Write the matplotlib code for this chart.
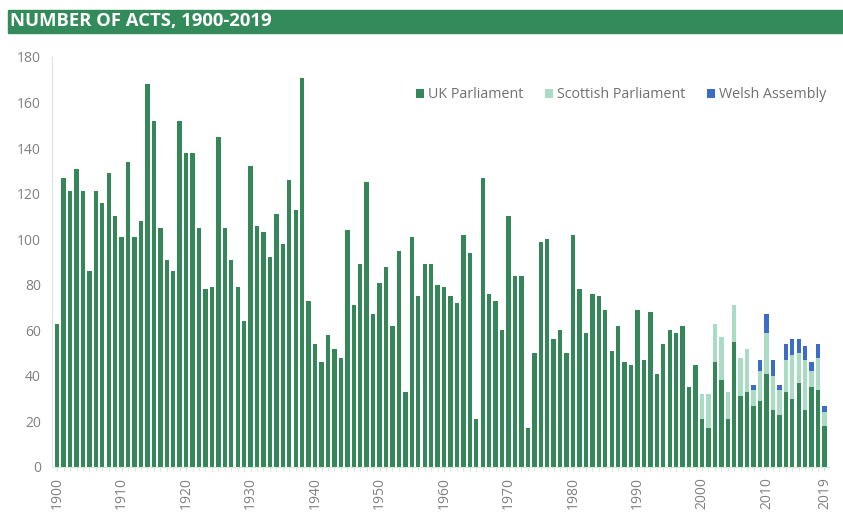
import matplotlib
matplotlib.use('Agg')
import matplotlib.pyplot as plt
from matplotlib.patches import Rectangle
import numpy as np

plt.rcParams['font.family'] = ['Open Sans', 'DejaVu Sans']

## data
years = list(range(1900, 2020))
uk = [63, 127, 121, 131, 121, 86, 121, 116, 129, 110,
      101, 134, 101, 108, 168, 152, 105, 91, 86, 152,
      138, 138, 105, 78, 79, 145, 105, 91, 79, 64,
      132, 106, 103, 92, 111, 98, 126, 113, 171, 73,
      54, 46, 58, 52, 48, 104, 71, 89, 125, 67,
      81, 88, 62, 95, 33, 101, 75, 89, 89, 80,
      79, 75, 72, 102, 94, 21, 127, 76, 73, 60,
      110, 84, 84, 17, 50, 99, 100, 56, 60, 50,
      102, 78, 59, 76, 75, 69, 51, 62, 46, 45,
      69, 47, 68, 41, 54, 60, 59, 62, 35, 45,
      21, 17, 46, 38, 21, 55, 31, 33, 27, 29,
      41, 25, 23, 33, 30, 37, 25, 35, 34, 18]
scot_years = list(range(2000, 2020))
scottish = [11, 15, 17, 19, 12, 16, 17, 19, 7, 13,
            18, 15, 11, 14, 19, 13, 22, 7, 14, 6]
welsh_years = list(range(2008, 2020))
welsh = [2, 5, 8, 7, 2, 7, 7, 6, 6, 4, 6, 3]
tick_years = [1900, 1910, 1920, 1930, 1940, 1950, 1960, 1970, 1980, 1990, 2000, 2010, 2019]

c_uk = '#35875a'
c_scot = '#a9dcc2'
c_wales = '#3b6cc6'
grey = '#808080'

# line the devolved series up with the full year range
scot_full = np.zeros(len(years))
wales_full = np.zeros(len(years))
for y, v in zip(scot_years, scottish):
    scot_full[years.index(y)] = v
for y, v in zip(welsh_years, welsh):
    wales_full[years.index(y)] = v

fig = plt.figure(figsize=(8.43, 5.15), dpi=100)
ax = fig.add_axes([52 / 843, 48 / 515, 777 / 843, 410 / 515])

x = np.arange(len(years))
w = 0.68
ax.bar(x, uk, w, color=c_uk, label='UK Parliament')
ax.bar(x, scot_full, w, bottom=uk, color=c_scot, label='Scottish Parliament')
ax.bar(x, wales_full, w, bottom=np.array(uk) + scot_full, color=c_wales, label='Welsh Assembly')

ax.set_ylim(0, 180)
ax.set_yticks(range(0, 181, 20))
ax.set_xlim(-0.8, len(years) - 0.3)
ax.set_xticks([years.index(y) for y in tick_years])
ax.set_xticklabels([str(y) for y in tick_years], rotation=90)
ax.set_xticks(x, minor=True)

for s in ['top', 'right']:
    ax.spines[s].set_visible(False)
ax.spines['left'].set_color('#e0e0e0')
ax.spines['bottom'].set_color('#cfe6d8')
ax.tick_params(axis='y', length=0, colors=grey, labelsize=10, pad=8)
ax.tick_params(axis='x', which='major', length=3, color='#cfe6d8', colors=grey, labelsize=10, pad=4)
ax.tick_params(axis='x', which='minor', length=3, color='#cfe6d8')

leg = ax.legend(loc='center right', bbox_to_anchor=(826 / 843, 1 - 95 / 515),
                bbox_transform=fig.transFigure, ncol=3, frameon=False,
                fontsize=10.3, handlelength=0.6, handleheight=0.6, handletextpad=0.25,
                columnspacing=1.5, borderaxespad=0, borderpad=0)
for t in leg.get_texts():
    t.set_color('#707070')

# title band
fig.patches.append(Rectangle((8 / 843, 1 - 33 / 515), 835 / 843, 23 / 515,
                             transform=fig.transFigure, color='#338a5a', zorder=0))
fig.text(10 / 843, 1 - 21.5 / 515, 'NUMBER OF ACTS, 1900-2019', color='white',
         fontsize=13.3, fontweight='bold', va='center', ha='left')

fig.savefig('out.png', dpi=100)
